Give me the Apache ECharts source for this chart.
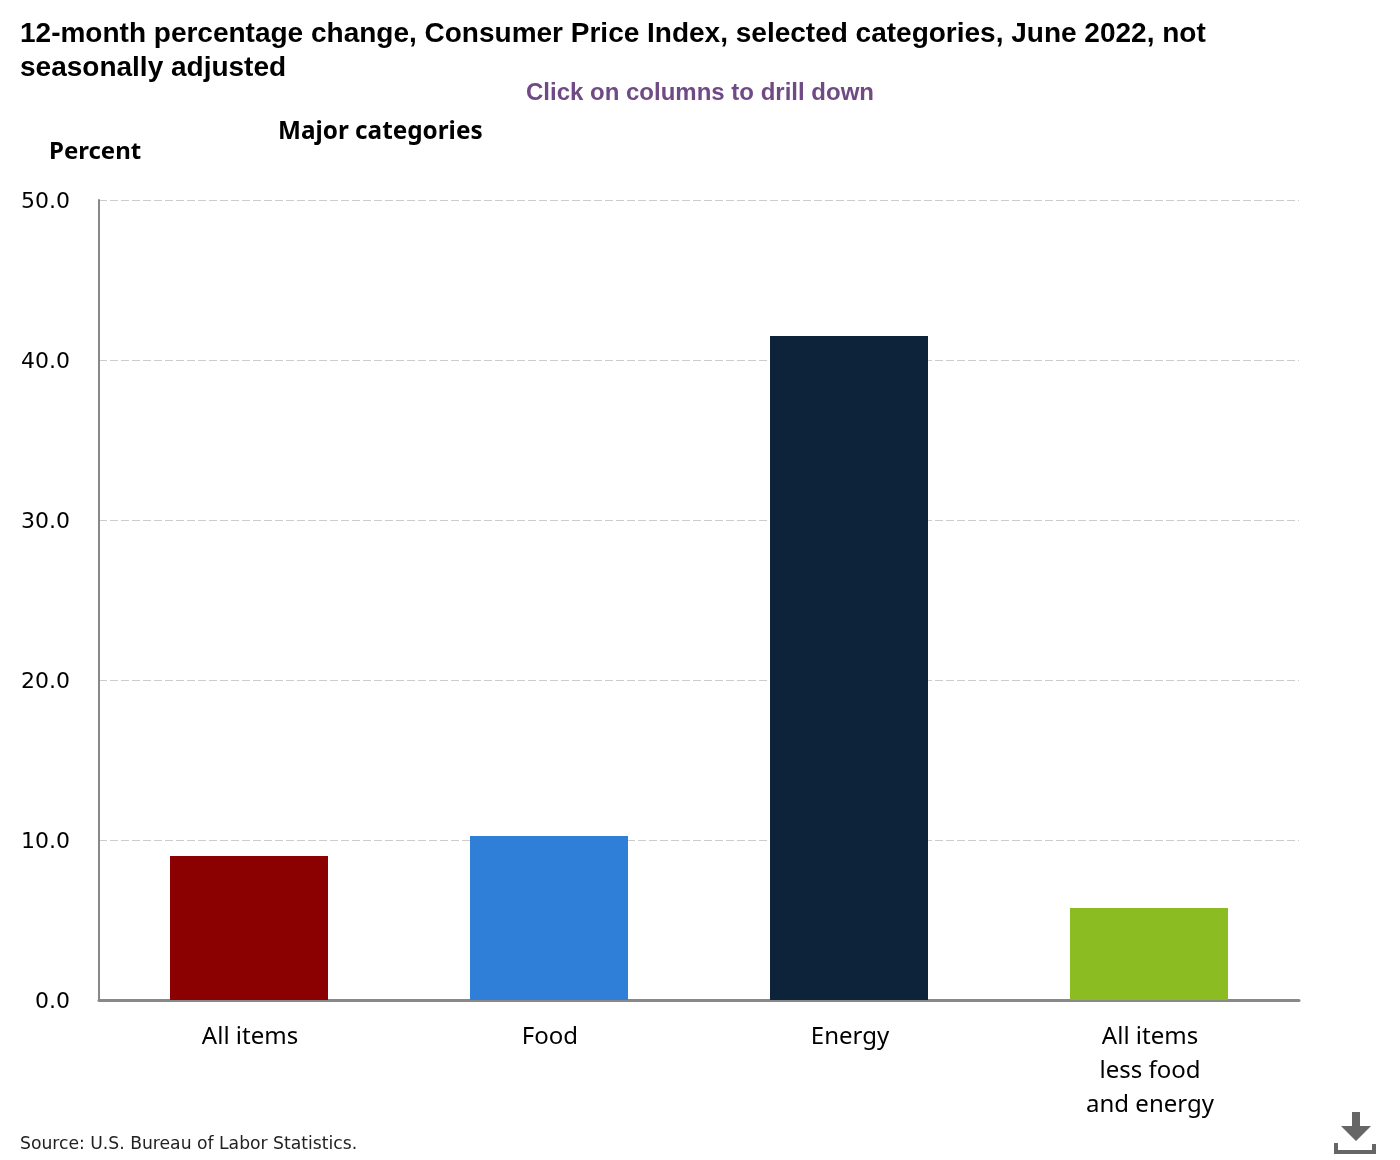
<!DOCTYPE html>
<html>
<head>
<meta charset="utf-8">
<title>CPI 12-month percentage change</title>
<script src="https://cdn.jsdelivr.net/npm/echarts@6/dist/echarts.min.js"></script>
<style>
  html, body { margin: 0; padding: 0; background: #fff; }
  #chart { width: 1400px; height: 1160px; }
</style>
</head>
<body>
<div id="chart"></div>
<script>
var categories = ['All items', 'Food', 'Energy', 'All items\nless food\nand energy'];
var values = [9.0, 10.25, 41.5, 5.75];
var barColors = ['#8b0000', '#2f7ed8', '#0d233a', '#8bbc21'];
var yMin = 0;
var yMax = 50;
var yStep = 10;

var titleFont = '"Liberation Sans", Arial, sans-serif';
var bodyFont = '"Noto Sans", sans-serif';
var tickFont = '"DejaVu Sans", sans-serif';

var myChart = echarts.init(document.getElementById('chart'), null, {renderer: 'canvas'});

var option = {
  backgroundColor: '#fff',
  animation: false,
  title: [
    {
      text: '12-month percentage change, Consumer Price Index, selected categories, June 2022, not\nseasonally adjusted',
      left: 20, top: 17, padding: 0,
      textStyle: {fontFamily: titleFont, fontSize: 28, fontWeight: 'bold', color: '#000', lineHeight: 34}
    },
    {
      text: 'Click on columns to drill down',
      left: 700, top: 81, padding: 0, textAlign: 'center',
      textStyle: {fontFamily: titleFont, fontSize: 24, fontWeight: 'bold', color: '#6f4a85'}
    },
    {
      text: 'Major categories',
      left: 278, top: 120, padding: 0,
      textStyle: {fontFamily: bodyFont, fontSize: 24.3, fontWeight: 'bold', color: '#000'}
    },
    {
      text: 'Percent',
      left: 49, top: 140, padding: 0,
      textStyle: {fontFamily: bodyFont, fontSize: 24, fontWeight: 'bold', color: '#000'}
    },
    {
      text: 'Source: U.S. Bureau of Labor Statistics.',
      left: 20, top: 1136, padding: 0,
      textStyle: {fontFamily: tickFont, fontSize: 17.2, fontWeight: 'normal', color: '#222'}
    }
  ],
  grid: {left: 99, right: 101, top: 200, bottom: 160, containLabel: false},
  xAxis: {
    type: 'category',
    data: categories,
    offset: 1,
    axisLine: {lineStyle: {color: '#888', width: 3}},
    axisTick: {show: false},
    axisLabel: {
      interval: 0, margin: 19, lineHeight: 34, padding: [0, 0, 0, 2],
      fontFamily: bodyFont, fontSize: 24, color: '#000'
    }
  },
  yAxis: {
    type: 'value',
    min: yMin, max: yMax, interval: yStep,
    axisLine: {show: true, lineStyle: {color: '#888', width: 2}},
    axisTick: {show: false},
    axisLabel: {
      margin: 29, color: '#000',
      formatter: function (v) { return '{t|' + v.toFixed(1) + '}'; },
      rich: {t: {fontFamily: tickFont, fontSize: 22, color: '#000', padding: [4, 0, 0, 0]}}
    },
    splitLine: {show: true, lineStyle: {color: '#ccc', width: 1, type: [8, 3]}}
  },
  series: [{
    type: 'bar',
    barWidth: 158,
    data: values.map(function (v, i) {
      return {value: v, itemStyle: {color: barColors[i]}};
    })
  }],
  graphic: [
    // download icon in the bottom right corner
    {type: 'polygon', shape: {points: [[1352,1112],[1360,1112],[1360,1126],[1371,1126],[1356,1141],[1341,1126],[1352,1126]]}, style: {fill: '#666'}},
    {type: 'polygon', shape: {points: [[1334,1143],[1338,1143],[1338,1150],[1372,1150],[1372,1144],[1376,1144],[1376,1154],[1334,1154]]}, style: {fill: '#666'}}
  ]
};

myChart.setOption(option);
</script>
</body>
</html>
